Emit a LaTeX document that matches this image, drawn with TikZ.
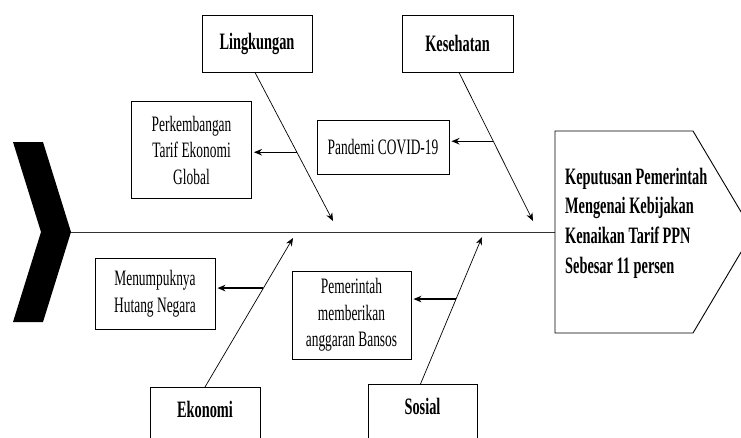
\documentclass[tikz,border=0pt]{standalone}
\usepackage{fontspec}
\setmainfont{Liberation Serif}[FakeStretch=0.61]
\usepackage{tikz}
\usetikzlibrary{arrows.meta}

\begin{document}
\begin{tikzpicture}[>={Stealth[length=8pt,width=6.5pt]},x=1pt,y=-1pt,
	catbox/.style={draw,line width=0.9pt,font=\bfseries\fontsize{23.5}{29}\selectfont},
	causebox/.style={draw,line width=0.9pt,align=center,inner sep=0pt,font=\fontsize{22}{26.5}\selectfont},
	bone/.style={line width=0.7pt,->},
	subarrow/.style={line width=1.4pt,->,shorten >=2pt}]
		\useasboundingbox (0,0) rectangle (741,437);
		\clip (0,0) rectangle (741,437);
		% tail and spine
		\fill (13,142) -- (43,142) -- (71,232) -- (43,322) -- (13,322) -- (41,232) -- cycle;
		\coordinate (tail) at (71,232);
		\coordinate (headin) at (555,232);
		\draw[line width=1pt,black!80] (tail) -- (headin);
		% head
		\draw[line width=0.9pt] (555,131) -- (693,131) -- (753,232) -- (693,333) -- (555,333) -- cycle;
		\node[anchor=west,align=left,inner sep=0pt,font=\bfseries\fontsize{23.5}{29.7}\selectfont] (keputusan) at (565,223)
			{Keputusan Pemerintah\\Mengenai Kebijakan\\Kenaikan Tarif PPN\\Sebesar 11 persen};
		% categories
		\node[catbox,minimum width=110pt,minimum height=57pt] (lingkungan) at (257,43.5) {Lingkungan};
		\node[catbox,minimum width=111pt,minimum height=57pt] (kesehatan) at (457.5,43.5) {Kesehatan};
		\node[catbox,anchor=north,inner sep=0pt,minimum width=110pt,text height=30.5pt,text depth=30pt] (ekonomi) at (205,387) {Ekonomi};
		\node[catbox,anchor=north,inner sep=0pt,minimum width=109pt,text height=30.5pt,text depth=30pt] (sosial) at (422.5,384) {Sosial};
		% causes
		\node[causebox,minimum width=120pt,minimum height=97pt] (perkembangan) at (191.5,150) {Perkembangan\\Tarif Ekonomi\\Global};
		\node[causebox,minimum width=132pt,minimum height=54pt] (pandemi) at (383,147) {Pandemi COVID-19};
		\node[causebox,minimum width=120pt,minimum height=71pt] (menumpuk) at (155,293.5) {Menumpuknya\\Hutang Negara};
		\node[causebox,minimum width=119pt,minimum height=88pt] (pemerintah) at (351.5,315) {Pemerintah\\memberikan\\anggaran Bansos};
		% bones
		\coordinate (ltip) at (333,221);
		\coordinate (ktip) at (533,221);
		\coordinate (etip) at (293,238);
		\coordinate (stip) at (482,237);
		\draw[bone] ([xshift=-2pt]lingkungan.south) -- coordinate[pos=0.537] (l1) (ltip);
		\draw[bone] ([xshift=1.5pt]kesehatan.south) -- coordinate[pos=0.463] (k1) (ktip);
		\draw[bone] (ekonomi.north) -- coordinate[pos=0.664] (e1) (etip);
		\draw[bone] ([xshift=-2pt]sosial.north) -- coordinate[pos=0.578] (s1) (stip);
		% sub arrows
		\draw[subarrow] (l1) -- (l1 -| perkembangan.east);
		\draw[subarrow] (k1) -- (k1 -| pandemi.east);
		\draw[subarrow] (e1) -- (e1 -| menumpuk.east);
		\draw[subarrow] (s1) -- (s1 -| pemerintah.east);
\end{tikzpicture}
\end{document}
